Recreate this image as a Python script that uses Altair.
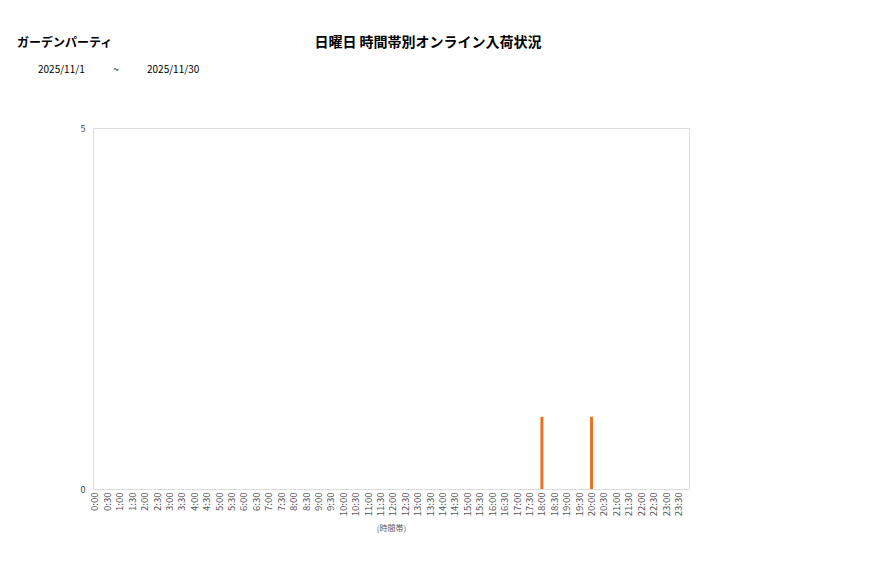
import altair as alt
import pandas as pd
import json

slots = [f"{h}:{m:02d}" for h in range(24) for m in (0, 30)]
values = [0] * 48
values[slots.index("18:00")] = 1
values[slots.index("20:00")] = 1

store = "ガーデンパーティ"
title = "日曜日 時間帯別オンライン入荷状況"
date_from = "2025/11/1"
date_to = "2025/11/30"

df = pd.DataFrame({"idx": list(range(48)), "slot": slots, "v": values})
FONT = "Noto Sans CJK JP"
labels_js = json.dumps(slots, ensure_ascii=False)

W, H = 596, 361

bars = alt.Chart(df).mark_bar(color="#F07021", size=3).encode(
    x=alt.X("idx:Q", scale=alt.Scale(domain=[-0.161, 47.85], nice=False, zero=False, padding=0),
            axis=alt.Axis(values=list(range(48)), labelExpr=f"{labels_js}[datum.value]",
                          labelAngle=270, labelAlign="right", labelBaseline="middle",
                          labelFontSize=9.5, labelColor="#595959", labelFont=FONT,
                          ticks=False, domain=False, grid=False, labelPadding=3,
                          title="(時間帯)", titleFontSize=8, titleFont=FONT,
                          titleColor="#595959", titleFontWeight="normal", titlePadding=9,
                          labelOverlap=False)),
    y=alt.Y("v:Q", scale=alt.Scale(domain=[0, 5], nice=False),
            axis=alt.Axis(values=[0, 5], ticks=False, domain=False, grid=False,
                          labelFontSize=9, labelColor="#404040", labelFont=FONT,
                          labelPadding=8, title=None)),
)

def txt(s, x, y, size, bold=False, align="left"):
    return alt.Chart(pd.DataFrame({"t": [s]})).mark_text(
        font=FONT, fontSize=size, fontWeight="bold" if bold else "normal",
        align=align, baseline="middle", color="#000000"
    ).encode(text="t:N", x=alt.value(x), y=alt.value(y))

ox, oy = 85, 120
layers = [
    bars,
    txt(store, 17 - 8 - ox, 43 - 8 - oy, 12, True),
    txt(title, 428 - 8 - ox, 43 - 8 - oy, 14, True, "center"),
    txt(date_from, 38 - 8 - ox, 70 - 8 - oy, 10),
    txt("~", 116 - 8 - ox, 70 - 8 - oy, 10, align="center"),
    txt(date_to, 147 - 8 - ox, 70 - 8 - oy, 10),
]

chart = alt.layer(*layers).properties(
    width=W, height=H,
    autosize=alt.AutoSizeParams(type="none"),
    padding={"left": ox, "top": oy, "right": 861 - ox - W, "bottom": 562 - oy - H},
).configure_view(stroke="#d9d9d9", strokeWidth=1).configure(background="white")

chart.save("out.html", embed_options={"renderer": "svg", "actions": False})
